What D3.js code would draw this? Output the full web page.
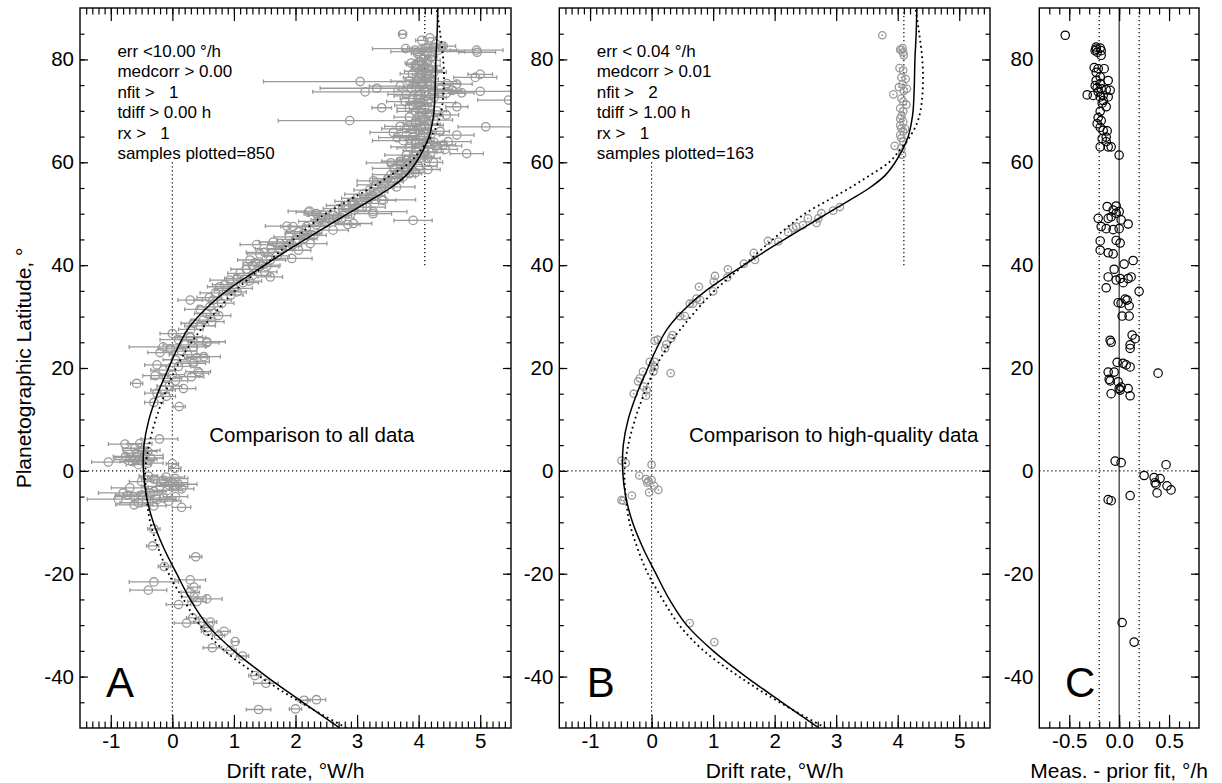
<!DOCTYPE html>
<html><head><meta charset="utf-8">
<script src="https://cdn.jsdelivr.net/npm/d3@7"></script>
<style>body{margin:0;background:#fff} svg{display:block} text{font-family:"Liberation Sans",Arial,Helvetica,sans-serif}</style>
</head><body><svg id="c" width="1222" height="783"></svg>
<script>
// ---------- data ----------
const driftTicks = [-1, 0, 1, 2, 3, 4, 5];
const latTicks = [-40, -20, 0, 20, 40, 60, 80];
const resTicks = [-0.5, 0, 0.5];
const resTickLabels = ["-0.5", "0.0", "0.5"];

// model profiles (latitude, drift rate)
const newLat   = [-50,-45,-40,-35,-30,-25,-20,-15,-10,-5,0,5,10,15,20,22.5,25,27.5,30,32.5,35,37.5,40,42.5,45,47.5,50,52.5,55,57.5,60,62.5,65,67.5,70,75,80,85,90];
const newDrift = [2.72,2.12,1.53,1.00,0.57,0.29,0.07,-0.14,-0.31,-0.42,-0.47,-0.46,-0.38,-0.24,-0.06,0.03,0.13,0.25,0.42,0.63,0.88,1.18,1.50,1.82,2.16,2.50,2.85,3.20,3.54,3.80,3.96,4.08,4.17,4.22,4.25,4.27,4.28,4.30,4.31];
const priorLat   = [-50,-45,-40,-35,-30,-25,-20,-15,-10,-5,0,5,10,15,20,25,30,35,40,45,47.5,50,52.5,55,57.5,60,62.5,65,67.5,70,75,80,85,90];
const priorDrift = [2.83,2.08,1.42,0.85,0.45,0.18,-0.06,-0.23,-0.36,-0.42,-0.44,-0.38,-0.27,-0.12,0.06,0.31,0.64,1.02,1.50,1.97,2.22,2.49,2.85,3.22,3.55,3.86,4.04,4.20,4.31,4.37,4.41,4.40,4.35,4.29];

// all data: [latitude, drift, error]
const allData = [
[84.9,3.74,0.05],[84.2,4.18,0.1],[83.7,4.05,0.1],[82.1,3.79,0.54],[81.8,3.94,0.2],[80.8,4.10,0.15],[81.8,4.94,0.43],[81.4,4.95,0.3],[81.8,4.32,0.3],[82.4,4.24,0.2],[82.0,4.05,0.15],[81.5,4.15,0.6],[82.6,4.40,0.2],[81.2,3.98,0.1],[82.2,4.12,0.3],[80.5,4.20,0.1],[83.0,4.28,0.15],
[79.6,4.02,0.1],[79.0,3.95,0.15],[78.5,4.10,0.2],[78.0,4.05,0.1],[77.7,4.07,0.3],[77.2,3.90,0.2],[76.8,4.15,0.1],[78.8,4.20,0.15],[77.5,4.25,0.2],[76.5,4.00,0.25],[79.3,3.88,0.1],[76.2,4.12,0.2],
[75.7,3.05,1.57],[74.4,3.32,0.92],[73.7,3.13,0.85],[77.1,5.0,0.2],[76.5,4.92,0.35],[73.8,5.0,0.5],[75.3,4.46,0.2],[72.1,5.46,0.5],
[75.8,3.85,0.3],[75.5,4.05,0.2],[75.0,4.20,0.3],[74.6,3.95,0.2],[74.2,4.35,0.2],[74.0,4.55,0.15],[73.5,4.70,0.2],[73.8,4.10,0.5],[73.2,3.80,0.3],[72.9,4.00,0.4],[72.6,4.25,0.2],[74.8,3.70,0.5],[73.4,4.45,0.3],[72.4,3.90,0.2],[75.2,4.62,0.25],
[71.1,3.91,0.3],[70.8,4.62,0.18],[70.6,3.40,0.16],[70.3,4.05,0.2],[69.9,3.95,0.3],[69.5,4.15,0.2],[69.2,4.45,0.2],[68.8,3.85,0.25],[68.5,4.08,0.1],[68.1,2.88,1.16],[71.6,4.20,0.4],[71.8,3.78,0.3],[70.0,4.30,0.15],[68.2,4.25,0.3],
[67.6,3.95,0.2],[67.2,4.10,0.3],[66.9,5.09,0.45],[66.5,3.80,0.4],[66.2,4.00,0.2],[65.8,3.59,0.38],[65.5,4.20,0.2],[65.3,4.62,0.28],[65.0,3.90,0.3],[64.6,4.05,0.15],[64.2,3.75,0.5],[64.0,4.48,0.37],[63.7,4.15,0.2],[63.4,4.40,0.2],[63.0,3.85,0.3],[62.8,4.00,0.35],[62.5,4.43,0.2],[66.0,4.35,0.15],[67.0,3.70,0.25],[64.8,3.65,0.3],[63.2,4.30,0.4],
[62.2,3.95,0.2],[61.7,4.78,0.27],[61.4,3.80,0.35],[61.0,4.05,0.2],[60.6,3.90,0.25],[60.2,3.70,0.3],[60.0,4.24,0.15],[59.6,3.85,0.2],[59.2,4.00,0.3],[58.8,3.60,0.35],[58.4,3.80,0.2],[58.0,3.95,0.15],[57.6,3.55,0.3],[57.2,3.75,0.2],[56.8,3.50,0.25],[59.9,3.55,0.4],[61.9,4.20,0.2],[58.6,4.15,0.2],
[80.2,4.08,0.1],[79.8,4.15,0.2],[79.1,4.05,0.15],[78.2,3.98,0.1],[77.9,4.18,0.2],[77.0,4.05,0.15],[76.0,3.98,0.2],[75.6,4.15,0.1],[74.9,4.05,0.15],[74.4,3.88,0.2],[73.9,4.25,0.3],[73.0,4.12,0.2],[72.2,4.08,0.15],[71.4,4.00,0.2],[70.9,4.10,0.15],[70.5,3.85,0.2],[69.7,4.05,0.1],[69.0,4.20,0.2],[68.0,3.95,0.15],[67.4,4.15,0.2],[66.7,4.05,0.15],[66.4,3.90,0.2],[65.7,4.10,0.1],[65.2,3.80,0.2],[64.4,3.95,0.15],[63.9,4.25,0.2],[63.5,3.95,0.15],[62.0,4.10,0.2],[61.2,3.92,0.15],[60.8,4.15,0.2],[60.4,3.80,0.15],[59.4,3.70,0.2],[58.2,3.70,0.15],[57.8,3.85,0.2],[57.0,3.60,0.15],[56.2,3.55,0.2],
[56.4,3.27,0.27],[56.0,3.45,0.2],[55.6,3.30,0.3],[55.2,3.64,0.3],[55.0,3.40,0.2],[54.6,3.20,0.25],[54.2,3.35,0.15],[53.8,3.10,0.3],[53.5,3.25,0.2],[53.0,3.00,0.25],[52.7,3.40,0.55],[52.6,3.43,0.2],[52.4,2.94,0.3],[52.0,3.15,0.2],[51.6,2.80,0.3],[51.3,3.16,0.3],[51.0,2.70,0.25],[50.7,2.95,0.2],[50.5,2.23,0.35],[50.4,3.26,0.55],[50.3,2.21,0.2],[50.0,3.26,0.3],[50.0,2.34,0.2],[49.7,2.61,0.3],[49.7,2.45,0.25],[49.4,2.67,0.2],[48.7,3.91,0.31],[48.1,2.94,0.3],[47.9,2.85,0.2],
[53.2,3.20,0.15],[51.8,2.95,0.2],[50.9,2.85,0.15],[49.2,2.75,0.2],[48.8,2.40,0.15],[46.0,2.25,0.15],[45.2,2.15,0.2],[43.9,1.95,0.15],[43.0,1.75,0.2],[39.9,1.30,0.15],[36.9,1.25,0.2],[34.8,1.05,0.15],
[49.0,2.55,0.2],[48.5,2.35,0.3],[48.2,2.50,0.2],[47.6,1.86,0.35],[47.5,1.96,0.2],[47.5,2.18,0.3],[47.8,2.34,0.2],[46.8,2.61,0.25],[46.5,2.05,0.2],[46.2,2.13,0.3],[45.8,2.30,0.2],[45.5,1.90,0.25],[45.0,2.00,0.3],[44.5,1.64,0.23],[44.2,1.75,0.2],[44.2,2.24,0.27],[44.0,1.37,0.27],[43.6,1.85,0.2],[43.2,1.60,0.25],[42.9,2.05,0.2],[42.5,1.50,0.3],[42.2,1.42,0.2],[41.8,1.70,0.2],[41.3,1.94,0.33],[41.0,1.26,0.2],[41.0,1.59,0.25],[40.5,1.35,0.2],[40.0,1.45,0.3],
[39.7,1.53,0.2],[39.2,1.20,0.25],[38.7,1.50,0.2],[38.4,1.10,0.2],[38.0,1.30,0.3],[37.7,1.59,0.2],[37.4,1.05,0.2],[37.1,0.93,0.32],[36.6,1.15,0.25],[36.2,0.85,0.2],[35.8,0.77,0.2],[35.5,1.00,0.3],[35.1,0.88,0.2],[34.6,0.70,0.25],[34.2,0.95,0.2],[33.7,0.60,0.2],[33.2,0.29,0.2],[33.2,0.66,0.3],[32.6,0.80,0.2],[31.9,0.61,0.2],[31.4,0.45,0.25],[30.6,0.56,0.2],[30.2,0.75,0.2],
[29.3,0.50,0.2],[29.0,0.64,0.2],[28.7,0.34,0.2],[28.2,0.45,0.25],[27.5,0.30,0.2],[26.7,0.0,0.2],[26.1,0.29,0.2],[25.9,0.29,0.25],[25.5,0.10,0.3],[25.1,0.56,0.3],[24.9,0.56,0.2],[24.5,0.20,0.35],[24.1,-0.15,0.55],[24.1,0.34,0.2],[23.7,-0.03,0.2],[23.3,0.15,0.25],[23.0,-0.20,0.2],[22.6,0.25,0.3],[22.2,0.51,0.27],[22.0,0.40,0.2],[21.6,0.05,0.2],[21.2,0.35,0.25],[20.9,0.34,0.2],[20.6,-0.25,0.2],[20.3,0.10,0.2],
[19.6,-0.15,0.2],[19.3,0.42,0.2],[19.0,0.44,0.15],[18.7,0.0,0.2],[18.5,-0.28,0.2],[18.3,0.31,0.2],[18.0,-0.10,0.25],[17.5,0.05,0.2],[17.0,-0.58,0.1],[16.5,-0.05,0.2],[16.0,0.18,0.2],[15.7,-0.15,0.2],[15.1,-0.25,0.2],[14.5,-0.10,0.15],[13.3,-0.30,0.15],[12.5,0.11,0.1],
[6.2,-0.21,0.3],[5.2,-0.77,0.27],[5.3,-0.53,0.2],[4.4,-0.61,0.2],[3.4,-0.58,0.2],[3.0,-0.45,0.3],[2.8,-0.76,0.2],[2.5,-0.35,0.2],[2.2,-0.60,0.35],[2.0,-0.50,0.2],[1.7,-1.04,0.27],[1.8,-0.65,0.2],[1.4,0.0,0.1],[1.5,-0.40,0.25],[1.2,-0.55,0.2],[0.5,0.04,0.1],[3.8,-0.40,0.15],[2.6,-0.68,0.25],[4.0,-0.50,0.3],
[-1.0,-0.39,0.15],[-1.2,-0.10,0.3],[-1.5,0.05,0.2],[-1.8,-0.15,0.2],[-2.1,-0.50,0.2],[-2.3,0.00,0.25],[-2.6,0.10,0.3],[-2.8,-0.05,0.2],[-3.0,-0.20,0.3],[-3.3,-0.69,0.3],[-3.5,0.15,0.2],[-3.8,-0.08,0.25],[-4.0,-0.30,0.2],[-4.3,-0.80,0.4],[-4.3,-0.36,0.2],[-4.7,-0.50,0.3],[-4.7,-0.72,0.2],[-5.0,-0.63,0.3],[-5.0,0.05,0.2],[-5.3,-0.14,0.2],[-5.5,-0.88,0.5],[-5.6,-0.42,0.2],[-5.6,-0.25,0.3],[-5.9,-0.06,0.2],[-6.2,-0.55,0.3],[-6.6,-0.62,0.3],[-6.8,-0.30,0.2],[-7.1,0.15,0.15],[-1.6,-0.30,0.2],[-3.0,0.05,0.2],
[-11.3,-0.30,0.1],[-14.6,-0.32,0.1],[-16.7,0.38,0.1],[-18.6,-0.13,0.1],[-21.6,-0.30,0.4],[-21.2,0.29,0.25],[-22.6,0.35,0.1],[-23.2,-0.39,0.3],[-23.6,0.29,0.15],[-24.5,0.35,0.2],[-24.9,0.56,0.25],[-25.4,0.40,0.15],[-26.0,0.10,0.2],[-28.6,0.33,0.1],[-29.6,0.23,0.2],[-29.4,0.50,0.15],[-29.4,0.62,0.1],[-30.5,0.56,0.1],[-31.2,0.57,0.1],[-31.2,0.84,0.1],[-32.0,0.75,0.1],[-33.2,1.02,0.05],[-34.4,0.65,0.15],[-34.9,0.94,0.1],[-36.0,1.14,0.1],[-39.8,1.34,0.1],[-41.3,1.52,0.2],[-44.6,2.14,0.1],[-44.5,2.34,0.15],[-46.3,2.00,0.1],[-46.4,1.40,0.2]
];

// high-quality data: [latitude, drift]
const hqData = [
[84.7,3.75],[81.8,4.06],[82.2,4.08],[81.4,4.09],[80.8,4.10],[81.9,4.04],[78.3,4.03],[77.9,4.09],[76.2,4.13],[76.5,4.06],[75.2,4.08],[74.3,4.15],[74.6,4.02],[73.9,4.10],[73.2,3.93],[72.4,4.06],[71.8,4.09],[71.2,4.14],[70.5,4.04],[69.9,4.09],[69.0,4.06],[68.5,4.04],[67.9,4.09],[67.2,4.04],[66.6,4.06],[66.0,4.09],[65.3,4.04],[64.7,4.06],[66.5,4.12],[64.0,4.09],[63.2,3.95],[62.7,4.06],[61.5,4.07],
[51.3,3.06],[50.6,2.95],[50.1,2.76],[49.1,2.71],[48.2,2.68],[49.1,2.54],[47.8,2.46],[47.5,2.35],[47.2,2.30],[46.4,2.22],[44.6,2.06],[44.7,1.89],
[42.4,1.66],[41.0,1.68],[40.3,1.50],[39.2,1.24],[37.6,1.23],[37.9,1.03],[36.8,1.01],[34.9,1.0],[35.8,0.77],[33.5,0.73],[32.5,0.67],[32.5,0.62],[33.2,0.79],[30.1,0.54],[30.1,0.46],[26.4,0.34],[25.8,0.32],[24.6,0.24],[23.8,0.22],[25.5,0.10],[25.3,0.05],[21.2,0.05],[21.2,-0.03],[20.2,0.05],[19.3,0.03],[19.3,-0.14],[18.0,-0.19],[17.4,-0.22],[19.0,0.31],[16.4,-0.13],[15.7,-0.08],[14.6,-0.09],[15.0,-0.29],
[2.0,-0.49],[1.5,-0.42],[1.2,0.0],[-0.9,-0.20],[-1.6,-0.09],[-2.0,-0.05],[-1.8,0.0],[-2.3,-0.07],[-2.9,0.04],[-3.7,0.11],[-4.2,-0.04],[-4.8,-0.32],[-5.7,-0.49],[-5.8,-0.46],[-29.6,0.62],[-33.3,1.02]
];

// residuals: [latitude, measured - prior fit]
const resData = [
[84.7,-0.54],[81.7,-0.24],[82.0,-0.23],[82.2,-0.19],[81.4,-0.22],[81.7,-0.18],[82.4,-0.23],[80.8,-0.18],[78.4,-0.25],[78.2,-0.21],[78.2,-0.15],[77.5,-0.23],[76.6,-0.19],[75.9,-0.11],[75.9,-0.23],[75.3,-0.19],[74.9,-0.24],[74.5,-0.22],[74.3,-0.18],[74.1,-0.13],[74.0,-0.09],[73.7,-0.21],[73.0,-0.16],[72.7,-0.11],[72.7,-0.19],[73.0,-0.26],[73.1,-0.32],[72.0,-0.16],[71.5,-0.17],[70.8,-0.13],
[69.9,-0.19],[68.7,-0.21],[68.1,-0.18],[67.5,-0.22],[66.8,-0.19],[66.2,-0.16],[66.1,-0.12],[64.9,-0.13],[64.6,-0.17],[64.0,-0.13],[63.0,-0.11],[63.0,-0.08],[63.0,-0.19],[61.4,0.0],
[51.5,-0.03],[51.4,-0.12],[50.7,-0.06],[50.1,-0.03],[49.4,-0.08],[50.4,0.0],[48.8,0.02],[48.0,0.09],[49.1,-0.11],[47.5,-0.18],[47.1,-0.13],[46.9,-0.06],[47.1,0.0],[49.1,-0.21],[44.7,-0.19],[44.8,-0.03],[44.3,0.01],[42.9,-0.19],[42.4,-0.11],[42.2,-0.06],
[40.9,0.14],[40.2,0.05],[39.2,-0.05],[37.7,-0.11],[37.1,-0.03],[37.4,0.01],[36.6,0.04],[37.7,0.12],[37.4,0.09],[35.6,-0.13],[34.9,0.20],[32.7,-0.01],[32.6,0.02],[33.4,0.06],[33.2,0.08],[32.1,0.10],[30.1,0.03],[30.1,0.10],
[26.4,0.13],[25.7,0.16],[25.4,-0.09],[25.0,-0.08],[24.5,0.11],[23.8,0.11],[21.1,-0.02],[20.9,0.04],[20.6,0.07],[20.2,0.11],[19.0,0.39],[19.2,-0.11],[19.2,-0.05],[17.8,-0.10],[17.5,-0.09],[17.3,-0.01],[16.3,0.02],[16.0,0.0],[16.0,0.09],[15.0,-0.08],[14.6,0.11],[15.7,0.01],
[1.9,-0.04],[1.6,0.02],[1.2,0.47],[-0.9,0.25],[-1.3,0.35],[-1.5,0.41],[-2.3,0.36],[-2.6,0.37],[-2.9,0.48],[-3.7,0.52],[-4.3,0.38],[-4.8,0.11],[-5.6,-0.11],[-5.8,-0.08],[-29.5,0.03],[-33.3,0.15]
];

const notesA = ["err <10.00 °/h", "medcorr > 0.00", "nfit >   1", "tdiff > 0.00 h", "rx >   1", "samples plotted=850"];
const notesB = ["err < 0.04 °/h", "medcorr > 0.01", "nfit >   2", "tdiff > 1.00 h", "rx >   1", "samples plotted=163"];

// ---------- drawing ----------
const svg = d3.select("#c");
const Y0 = 8, Y1 = 728;
const FONT = "'Liberation Sans', Arial, Helvetica, sans-serif";
const GRAY = "#9a9a9a";
const y = d3.scaleLinear().domain([-50, 90]).range([Y1, Y0]);

const panelA = {x0: 80, x1: 511, id: "A"};
const panelB = {x0: 559.3, x1: 990, id: "B"};
const panelC = {x0: 1039.3, x1: 1199, id: "C"};

function styleAxis(g) {
  g.attr("font-family", FONT).attr("font-size", 20.5);
  g.select(".domain").remove();
  g.selectAll("line").attr("stroke", "#000").attr("stroke-width", 1.2);
  g.selectAll("text").attr("fill", "#000");
}

function drawAxes(p, x, xMajor, xMinor, xFmt, leftTicks) {
  const g = svg.append("g");
  g.append("g").attr("transform", `translate(0,${Y1})`)
    .call(d3.axisBottom(x).tickValues(xMinor).tickSize(-6.5).tickFormat("")).call(styleAxis);
  g.append("g").attr("transform", `translate(0,${Y1})`)
    .call(d3.axisBottom(x).tickValues(xMajor).tickSize(-13).tickPadding(5).tickFormat(xFmt)).call(styleAxis);
  g.append("g").attr("transform", `translate(0,${Y0})`)
    .call(d3.axisTop(x).tickValues(xMinor).tickSize(-6.5).tickFormat("")).call(styleAxis);
  g.append("g").attr("transform", `translate(0,${Y0})`)
    .call(d3.axisTop(x).tickValues(xMajor).tickSize(-13).tickFormat("")).call(styleAxis);
  const yMinor = d3.range(-45, 90, 5);
  if (leftTicks) {
    g.append("g").attr("transform", `translate(${p.x0},0)`)
      .call(d3.axisLeft(y).tickValues(yMinor).tickSize(-4.5).tickFormat("")).call(styleAxis);
    g.append("g").attr("transform", `translate(${p.x0},0)`)
      .call(d3.axisLeft(y).tickValues(latTicks).tickSize(-8).tickPadding(6).tickFormat(d => String(d))).call(styleAxis);
  } else {
    g.append("g").attr("transform", `translate(${p.x0},0)`)
      .call(d3.axisLeft(y).tickValues(latTicks).tickSize(0).tickPadding(6).tickFormat(d => String(d))).call(styleAxis);
  }
  g.append("g").attr("transform", `translate(${p.x1},0)`)
    .call(d3.axisRight(y).tickValues(yMinor).tickSize(-4.5).tickFormat("")).call(styleAxis);
  g.append("g").attr("transform", `translate(${p.x1},0)`)
    .call(d3.axisRight(y).tickValues(latTicks).tickSize(-8).tickFormat("")).call(styleAxis);
  g.append("rect").attr("x", p.x0).attr("y", Y0).attr("width", p.x1 - p.x0).attr("height", Y1 - Y0)
    .attr("fill", "none").attr("stroke", "#000").attr("stroke-width", 1.4);
}

function clip(p) {
  const id = "clip" + p.id;
  svg.append("clipPath").attr("id", id).append("rect")
    .attr("x", p.x0).attr("y", Y0).attr("width", p.x1 - p.x0).attr("height", Y1 - Y0);
  return svg.append("g").attr("clip-path", `url(#${id})`);
}

function dotted(g, x1, y1, x2, y2) {
  g.append("line").attr("x1", x1).attr("y1", y1).attr("x2", x2).attr("y2", y2)
    .attr("stroke", "#000").attr("stroke-width", 1.2).attr("stroke-dasharray", "1.2,2.8");
}

function fitCurves(g, x) {
  const line = d3.line().curve(d3.curveCatmullRom.alpha(0.5));
  const prior = priorLat.map((la, i) => [x(priorDrift[i]), y(la)]);
  const fresh = newLat.map((la, i) => [x(newDrift[i]), y(la)]);
  g.append("path").attr("d", line(prior)).attr("fill", "none")
    .attr("stroke", "#000").attr("stroke-width", 1.8).attr("stroke-dasharray", "1.8,3.4");
  g.append("path").attr("d", line(fresh)).attr("fill", "none")
    .attr("stroke", "#000").attr("stroke-width", 1.5);
}

function notes(p, lines) {
  const t = svg.append("g").attr("font-family", FONT).attr("font-size", 17).attr("fill", "#000");
  lines.forEach((s, i) => t.append("text").attr("x", p.x0 + 37.4).attr("y", 56.7 + i * 20.5)
    .style("white-space", "pre").text(s));
}

function label(x, yy, s, size, anchor) {
  svg.append("text").attr("x", x).attr("y", yy).attr("font-family", FONT).attr("font-size", size)
    .attr("text-anchor", anchor || "start").attr("fill", "#000").text(s);
}

const minorDrift = d3.range(-14, 55).map(i => i / 10);
const minorRes = d3.range(-7, 8).map(i => i / 10);

// ----- Panel A -----
{
  const p = panelA;
  const x = d3.scaleLinear().domain([-1.5, 5.5]).range([p.x0, p.x1]);
  const g = clip(p);
  dotted(g, x(0), y(60), x(0), Y1);
  dotted(g, x(4.1), Y0, x(4.1), y(40));
  dotted(g, p.x0, y(0), p.x1, y(0));
  const d = g.append("g").attr("stroke", GRAY).attr("stroke-width", 1.3).attr("fill", "none");
  d.selectAll(".eb").data(allData).join("path").attr("class", "eb")
    .attr("d", v => {
      const a = x(v[1] - v[2]), b = x(v[1] + v[2]), yy = y(v[0]);
      return `M${a},${yy}H${b}M${a},${yy - 2}V${yy + 2}M${b},${yy - 2}V${yy + 2}`;
    });
  d.selectAll("circle").data(allData).join("circle")
    .attr("cx", v => x(v[1])).attr("cy", v => y(v[0])).attr("r", 4.2);
  fitCurves(g, x);
  drawAxes(p, x, driftTicks, minorDrift, v => String(v), true);
  notes(p, notesA);
  label(209.3, 442.3, "Comparison to all data", 20.5);
  label(106, 696.5, "A", 42);
  label((p.x0 + p.x1) / 2, 778, "Drift rate, °W/h", 21, "middle");
}

// ----- Panel B -----
{
  const p = panelB;
  const x = d3.scaleLinear().domain([-1.5, 5.5]).range([p.x0, p.x1]);
  const g = clip(p);
  dotted(g, x(0), y(60), x(0), Y1);
  dotted(g, x(4.1), Y0, x(4.1), y(40));
  dotted(g, p.x0, y(0), p.x1, y(0));
  const d = g.append("g");
  d.selectAll("circle.o").data(hqData).join("circle").attr("class", "o")
    .attr("cx", v => x(v[1])).attr("cy", v => y(v[0])).attr("r", 3.7)
    .attr("fill", "none").attr("stroke", GRAY).attr("stroke-width", 1.3);
  d.selectAll("circle.c").data(hqData).join("circle").attr("class", "c")
    .attr("cx", v => x(v[1])).attr("cy", v => y(v[0])).attr("r", 0.9).attr("fill", GRAY);
  fitCurves(g, x);
  drawAxes(p, x, driftTicks, minorDrift, v => String(v), true);
  notes(p, notesB);
  label(689, 442.3, "Comparison to high-quality data", 20.5);
  label(586.7, 696.5, "B", 42);
  label((p.x0 + p.x1) / 2, 778, "Drift rate, °W/h", 21, "middle");
}

// ----- Panel C -----
{
  const p = panelC;
  const x = d3.scaleLinear().domain([-0.8, 0.8]).range([p.x0, p.x1]);
  const g = clip(p);
  dotted(g, x(-0.2), Y0, x(-0.2), Y1);
  dotted(g, x(0.2), Y0, x(0.2), Y1);
  dotted(g, p.x0, y(0), p.x1, y(0));
  g.append("line").attr("x1", x(0)).attr("x2", x(0)).attr("y1", Y0).attr("y2", Y1)
    .attr("stroke", "#000").attr("stroke-width", 1);
  g.append("g").selectAll("circle").data(resData).join("circle")
    .attr("cx", v => x(v[1])).attr("cy", v => y(v[0])).attr("r", 4.2)
    .attr("fill", "none").attr("stroke", "#000").attr("stroke-width", 1.2);
  drawAxes(p, x, resTicks, minorRes, (v, i) => resTickLabels[i], false);
  label(1065, 696.5, "C", 42);
  label((p.x0 + p.x1) / 2, 778, "Meas. - prior fit, °/h", 21, "middle");
}

svg.append("text").attr("transform", "translate(31,368) rotate(-90)")
  .attr("font-family", FONT).attr("font-size", 21).attr("text-anchor", "middle")
  .text("Planetographic Latitude, °");
</script>
</body></html>
